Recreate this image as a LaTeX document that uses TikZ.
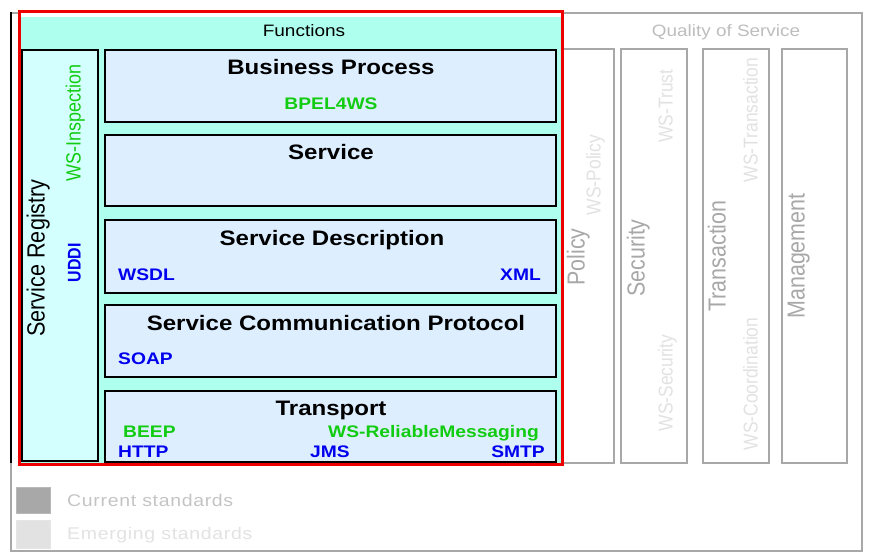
\documentclass[tikz,border=0pt]{standalone}
\usepackage{fontspec}
\setmainfont{Liberation Sans}[FakeStretch=1.15]
\newfontfamily\rotfont{Liberation Sans}
\newfontfamily\legfont{Liberation Sans}[FakeStretch=1.15, LetterSpace=4]
\usepackage{graphicx}
\definecolor{funcfill}{HTML}{AEFFEE}
\definecolor{regfill}{HTML}{D4FFFF}
\definecolor{layerfill}{HTML}{DDEEFF}
\definecolor{stdgreen}{HTML}{11CC11}
\definecolor{stdblue}{HTML}{0000EE}
\definecolor{qosgray}{HTML}{A8A8A8}
\definecolor{qostext}{HTML}{BDBDBD}
\definecolor{qoslight}{HTML}{E2E2E2}
\definecolor{redframe}{HTML}{EE0000}
\newcommand{\vtext}[1]{\scalebox{1}[1.15]{#1}}
\begin{document}
\begin{tikzpicture}[x=1bp,y=-1bp,
  layerbox/.style={draw=black, line width=2.5bp, fill=layerfill, minimum width=451bp, inner sep=0},
  regbox/.style={draw=black, line width=2.5bp, fill=regfill, minimum width=76bp, minimum height=411bp, inner sep=0},
  qoscol/.style={draw=qosgray, line width=1.6bp, fill=white},
  title/.style={inner sep=0, font=\fontsize{21}{21}\selectfont\bfseries, anchor=mid},
  lbl/.style={inner sep=0, font=\fontsize{16.8}{16.8}\selectfont\bfseries},
  glbl/.style={lbl, text=stdgreen},
  blbl/.style={lbl, text=stdblue},
  rot/.style={inner sep=0, rotate=90, anchor=mid},
  qosmain/.style={rot, text=qosgray, font=\rotfont\fontsize{21.5}{21.5}\selectfont},
  qossub/.style={rot, text=qoslight, font=\rotfont\fontsize{17.5}{17.5}\selectfont},
]
\useasboundingbox (0,0) rectangle (874,554);
% outer frame
\draw[qosgray, line width=1.6bp] (11,13) rectangle (862,551);
\draw[black, line width=2bp] (11,12) -- (11,463);
% Quality of Service
\node[inner sep=0, anchor=mid, text=qostext, font=\fontsize{16.5}{16.5}\selectfont] (qos) at (726,34) {Quality of Service};
\draw[qoscol] (563,49) rectangle (614,463);
\draw[qoscol] (621,49) rectangle (687,463);
\draw[qoscol] (703,49) rectangle (769,463);
\draw[qoscol] (782,49) rectangle (847,463);
\node[qosmain] (policy) at (582,257) {\vtext{Policy}};
\node[qossub] (wspolicy) at (598,175) {\vtext{WS-Policy}};
\node[qosmain] (security) at (642,258) {\vtext{Security}};
\node[qossub] (wstrust) at (670,106) {\vtext{WS-Trust}};
\node[qossub] (wssecurity) at (670,383) {\vtext{WS-Security}};
\node[qosmain] (transaction) at (723,256) {\vtext{Transaction}};
\node[qossub] (wstransaction) at (755,120) {\vtext{WS-Transaction}};
\node[qossub] (wscoord) at (755,384) {\vtext{WS-Coordination}};
\node[qosmain] (management) at (802,256) {\vtext{Management}};
% functions area
\fill[white] (19,12) rectangle (562,464);
\fill[funcfill] (20,17) rectangle (561,463);
\node[inner sep=0, anchor=mid, font=\fontsize{16.6}{16.6}\selectfont] (functions) at (304,34) {Functions};
% service registry
\node[regbox] (reg) at (60,255.5) {};
\node[rot, font=\rotfont\fontsize{21.7}{21.7}\selectfont] (regtxt) at (42,258) {\vtext{Service Registry}};
\node[rot, text=stdgreen, font=\rotfont\fontsize{18}{18}\selectfont] (wsinsp) at (78,123) {\vtext{WS-Inspection}};
\node[rot, text=stdblue, font=\rotfont\fontsize{16}{16}\selectfont\bfseries] (uddi) at (78,263) {\vtext{UDDI}};
% layers
\node[layerbox, minimum height=72bp] (bp) at (330.5,86) {};
\node[layerbox, minimum height=71bp] (svc) at (330.5,170.5) {};
\node[layerbox, minimum height=73bp] (sd) at (330.5,256.5) {};
\node[layerbox, minimum height=72bp] (scp) at (330.5,341) {};
\node[layerbox, minimum height=71bp] (tr) at (330.5,426.5) {};
\node[title] (bptitle) at (331,72) {Business Process};
\node[glbl, anchor=mid] (bpel) at (331,106.5) {BPEL4WS};
\node[title] (svctitle) at (331,157) {Service};
\node[title] (sdtitle) at (332,243) {Service Description};
\node[blbl, anchor=mid west] (wsdl) at (118,277.5) {WSDL};
\node[blbl, anchor=mid east] (xml) at (541,277.5) {XML};
\node[title] (scptitle) at (336,328) {Service Communication Protocol};
\node[blbl, anchor=mid west] (soap) at (118,361.5) {SOAP};
\node[title] (trtitle) at (331,413) {Transport};
\node[glbl, anchor=mid west] (beep) at (123,434.5) {BEEP};
\node[glbl, anchor=mid east] (wsrm) at (539,434.5) {WS-ReliableMessaging};
\node[blbl, anchor=mid west] (http) at (118,454.5) {HTTP};
\node[blbl, anchor=mid] (jms) at (330,454.5) {JMS};
\node[blbl, anchor=mid east] (smtp) at (545,454.5) {SMTP};
% red frame
\draw[redframe, line width=3bp] (19,12) rectangle (562,464);
% legend
\draw[fill=qosgray, draw=qosgray!80!white, line width=0.6bp] (16,487) rectangle (50,513);
\draw[fill=qoslight, draw=qoslight!90!white, line width=0.6bp] (16,520) rectangle (50,548);
\node[inner sep=0, anchor=mid west, text=qostext!90!white, font=\legfont\fontsize{17}{17}\selectfont] (cur) at (67,504) {Current standards};
\node[inner sep=0, anchor=mid west, text=qoslight, font=\legfont\fontsize{17}{17}\selectfont] (emerg) at (67,537) {Emerging standards};
\end{tikzpicture}
\end{document}
